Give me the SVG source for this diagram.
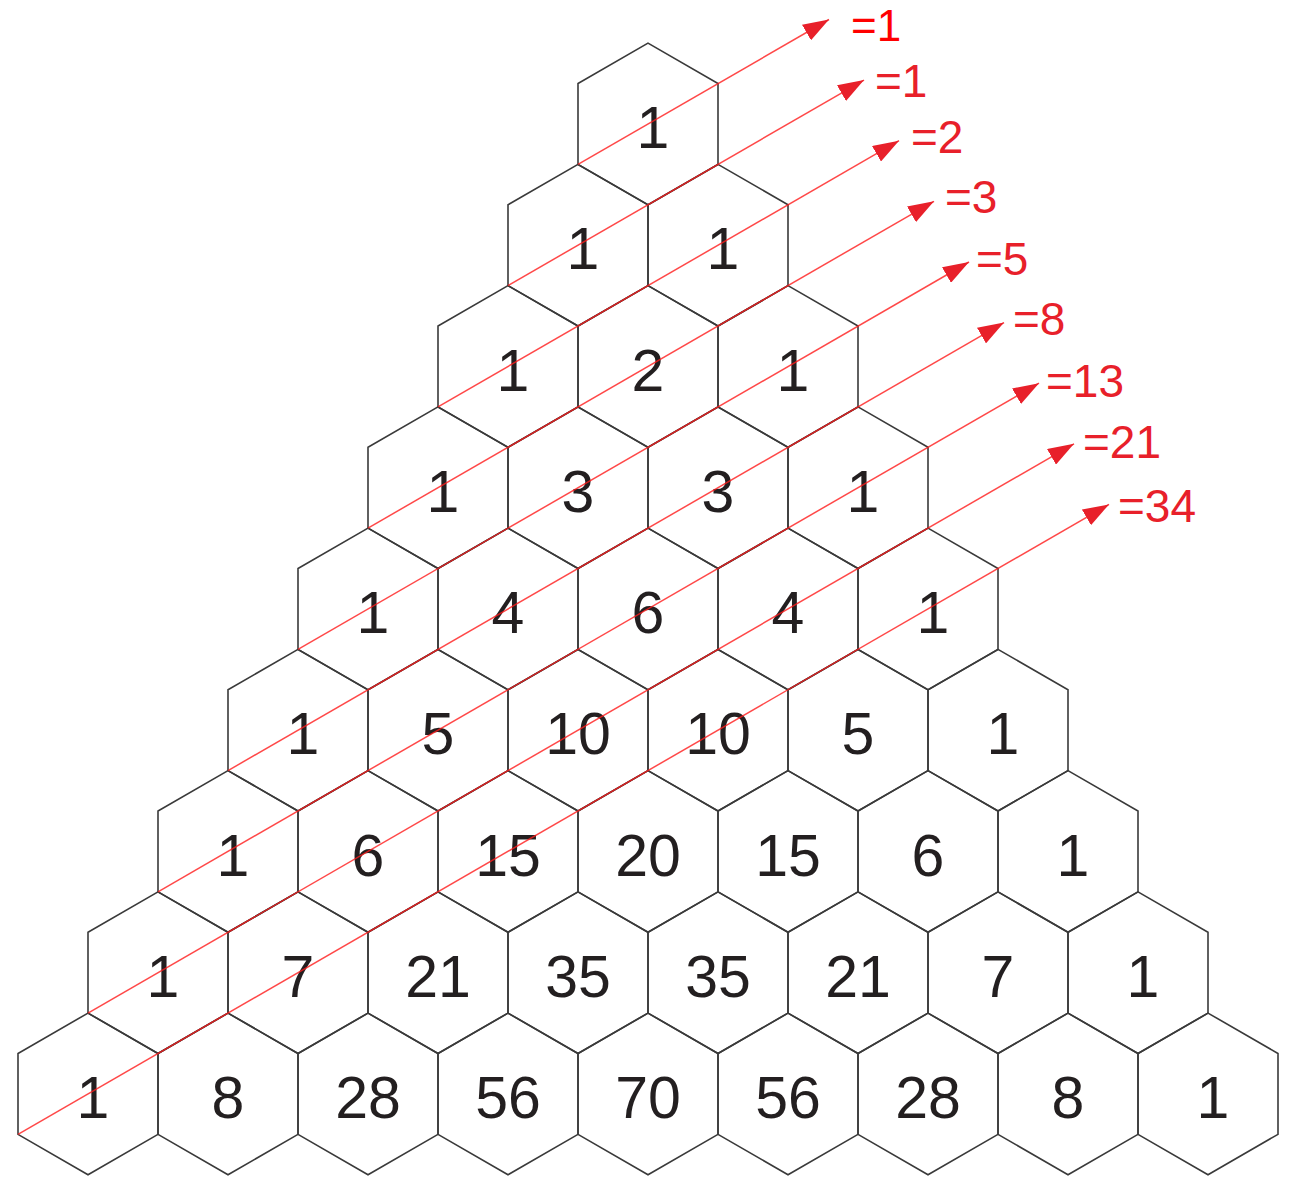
<svg xmlns="http://www.w3.org/2000/svg" xmlns:xlink="http://www.w3.org/1999/xlink" width="1292" height="1177" viewBox="0 0 1292 1177">
<style>
.hx{fill:none;stroke:#3a3a3a;stroke-width:1.6}
.n{font-family:"Liberation Sans",Arial,sans-serif;font-size:59px;fill:#231f20;text-anchor:middle}
.ln{stroke:#ff1a1a;stroke-opacity:0.8;stroke-width:1.5;fill:none}
.lb{font-family:"Liberation Sans",Arial,sans-serif;font-size:46px;fill:#e8202a}
</style>
<defs>
<path id="hex" d="M0,-80.83 L70,-40.42 L70,40.42 L0,80.83 L-70,40.42 L-70,-40.42 Z"/>
<marker id="ar" markerUnits="userSpaceOnUse" markerWidth="27" markerHeight="18" refX="26" refY="9" orient="auto">
<path d="M0,0 L26,9 L0,18 Z" fill="#e8202a"/>
</marker>
</defs>
<rect width="1292" height="1177" fill="#ffffff"/>
<g id="nodes">
<g id="h0-0"><use href="#hex" class="hx" x="648" y="124"/><text class="n" x="653" y="148">1</text></g>

<g id="h1-0"><use href="#hex" class="hx" x="578" y="245.2"/><text class="n" x="583" y="269">1</text></g>
<g id="h1-1"><use href="#hex" class="hx" x="718" y="245.2"/><text class="n" x="723" y="269">1</text></g>

<g id="h2-0"><use href="#hex" class="hx" x="508" y="366.5"/><text class="n" x="513" y="390.5">1</text></g>
<g id="h2-1"><use href="#hex" class="hx" x="648" y="366.5"/><text class="n" x="648" y="390.5">2</text></g>
<g id="h2-2"><use href="#hex" class="hx" x="788" y="366.5"/><text class="n" x="793" y="390.5">1</text></g>

<g id="h3-0"><use href="#hex" class="hx" x="438" y="487.7"/><text class="n" x="443" y="512">1</text></g>
<g id="h3-1"><use href="#hex" class="hx" x="578" y="487.7"/><text class="n" x="578" y="512">3</text></g>
<g id="h3-2"><use href="#hex" class="hx" x="718" y="487.7"/><text class="n" x="718" y="512">3</text></g>
<g id="h3-3"><use href="#hex" class="hx" x="858" y="487.7"/><text class="n" x="863" y="512">1</text></g>

<g id="h4-0"><use href="#hex" class="hx" x="368" y="609"/><text class="n" x="373" y="633">1</text></g>
<g id="h4-1"><use href="#hex" class="hx" x="508" y="609"/><text class="n" x="508" y="633">4</text></g>
<g id="h4-2"><use href="#hex" class="hx" x="648" y="609"/><text class="n" x="648" y="633">6</text></g>
<g id="h4-3"><use href="#hex" class="hx" x="788" y="609"/><text class="n" x="788" y="633">4</text></g>
<g id="h4-4"><use href="#hex" class="hx" x="928" y="609"/><text class="n" x="933" y="633">1</text></g>

<g id="h5-0"><use href="#hex" class="hx" x="298" y="730.2"/><text class="n" x="303" y="754">1</text></g>
<g id="h5-1"><use href="#hex" class="hx" x="438" y="730.2"/><text class="n" x="438" y="754">5</text></g>
<g id="h5-2"><use href="#hex" class="hx" x="578" y="730.2"/><text class="n" x="578" y="754">10</text></g>
<g id="h5-3"><use href="#hex" class="hx" x="718" y="730.2"/><text class="n" x="718" y="754">10</text></g>
<g id="h5-4"><use href="#hex" class="hx" x="858" y="730.2"/><text class="n" x="858" y="754">5</text></g>
<g id="h5-5"><use href="#hex" class="hx" x="998" y="730.2"/><text class="n" x="1003" y="754">1</text></g>

<g id="h6-0"><use href="#hex" class="hx" x="228" y="851.4"/><text class="n" x="233" y="875.5">1</text></g>
<g id="h6-1"><use href="#hex" class="hx" x="368" y="851.4"/><text class="n" x="368" y="875.5">6</text></g>
<g id="h6-2"><use href="#hex" class="hx" x="508" y="851.4"/><text class="n" x="508" y="875.5">15</text></g>
<g id="h6-3"><use href="#hex" class="hx" x="648" y="851.4"/><text class="n" x="648" y="875.5">20</text></g>
<g id="h6-4"><use href="#hex" class="hx" x="788" y="851.4"/><text class="n" x="788" y="875.5">15</text></g>
<g id="h6-5"><use href="#hex" class="hx" x="928" y="851.4"/><text class="n" x="928" y="875.5">6</text></g>
<g id="h6-6"><use href="#hex" class="hx" x="1068" y="851.4"/><text class="n" x="1073" y="875.5">1</text></g>

<g id="h7-0"><use href="#hex" class="hx" x="158" y="972.7"/><text class="n" x="163" y="996.5">1</text></g>
<g id="h7-1"><use href="#hex" class="hx" x="298" y="972.7"/><text class="n" x="298" y="996.5">7</text></g>
<g id="h7-2"><use href="#hex" class="hx" x="438" y="972.7"/><text class="n" x="438" y="996.5">21</text></g>
<g id="h7-3"><use href="#hex" class="hx" x="578" y="972.7"/><text class="n" x="578" y="996.5">35</text></g>
<g id="h7-4"><use href="#hex" class="hx" x="718" y="972.7"/><text class="n" x="718" y="996.5">35</text></g>
<g id="h7-5"><use href="#hex" class="hx" x="858" y="972.7"/><text class="n" x="858" y="996.5">21</text></g>
<g id="h7-6"><use href="#hex" class="hx" x="998" y="972.7"/><text class="n" x="998" y="996.5">7</text></g>
<g id="h7-7"><use href="#hex" class="hx" x="1138" y="972.7"/><text class="n" x="1143" y="996.5">1</text></g>

<g id="h8-0"><use href="#hex" class="hx" x="88" y="1093.9"/><text class="n" x="93" y="1118">1</text></g>
<g id="h8-1"><use href="#hex" class="hx" x="228" y="1093.9"/><text class="n" x="228" y="1118">8</text></g>
<g id="h8-2"><use href="#hex" class="hx" x="368" y="1093.9"/><text class="n" x="368" y="1118">28</text></g>
<g id="h8-3"><use href="#hex" class="hx" x="508" y="1093.9"/><text class="n" x="508" y="1118">56</text></g>
<g id="h8-4"><use href="#hex" class="hx" x="648" y="1093.9"/><text class="n" x="648" y="1118">70</text></g>
<g id="h8-5"><use href="#hex" class="hx" x="788" y="1093.9"/><text class="n" x="788" y="1118">56</text></g>
<g id="h8-6"><use href="#hex" class="hx" x="928" y="1093.9"/><text class="n" x="928" y="1118">28</text></g>
<g id="h8-7"><use href="#hex" class="hx" x="1068" y="1093.9"/><text class="n" x="1068" y="1118">8</text></g>
<g id="h8-8"><use href="#hex" class="hx" x="1208" y="1093.9"/><text class="n" x="1213" y="1118">1</text></g>
</g>
<g id="connectors">
<line class="ln" x1="578" y1="164.4" x2="829" y2="19.5" marker-end="url(#ar)"/>
<line class="ln" x1="508" y1="285.6" x2="864" y2="80.1" marker-end="url(#ar)"/>
<line class="ln" x1="438" y1="406.9" x2="899" y2="140.7" marker-end="url(#ar)"/>
<line class="ln" x1="368" y1="528.1" x2="934" y2="201.3" marker-end="url(#ar)"/>
<line class="ln" x1="298" y1="649.4" x2="969" y2="262.0" marker-end="url(#ar)"/>
<line class="ln" x1="228" y1="770.6" x2="1004" y2="322.6" marker-end="url(#ar)"/>
<line class="ln" x1="158" y1="891.8" x2="1039" y2="383.2" marker-end="url(#ar)"/>
<line class="ln" x1="88" y1="1013.1" x2="1074" y2="443.8" marker-end="url(#ar)"/>
<line class="ln" x1="18" y1="1134.3" x2="1109" y2="504.4" marker-end="url(#ar)"/>
</g>
<g id="labels">
<text class="lb" x="851" y="41" style="fill:#ff0000;font-size:44px">=1</text>
<text class="lb" x="875" y="97">=1</text>
<text class="lb" x="911" y="153">=2</text>
<text class="lb" x="945" y="213">=3</text>
<text class="lb" x="976" y="275">=5</text>
<text class="lb" x="1013" y="335">=8</text>
<text class="lb" x="1046" y="397">=13</text>
<text class="lb" x="1083" y="458">=21</text>
<text class="lb" x="1118" y="522">=34</text>
</g>
</svg>
